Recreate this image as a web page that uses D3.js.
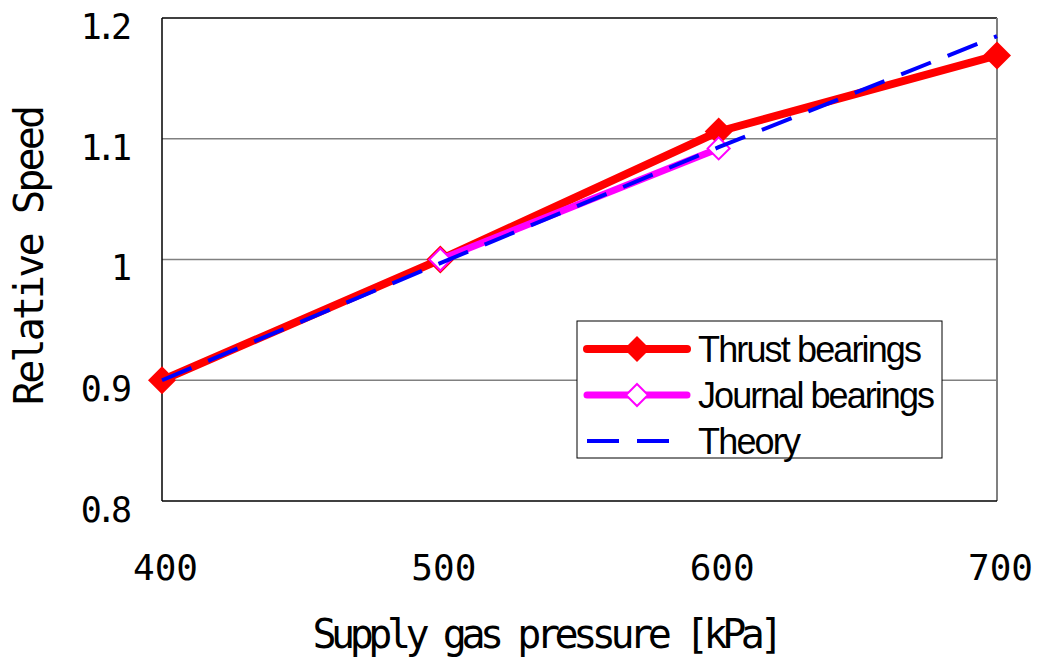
<!DOCTYPE html>
<html>
<head>
<meta charset="utf-8">
<script src="https://cdn.jsdelivr.net/npm/d3@7"></script>
<style>
  body { margin: 0; background: #fff; }
  svg { display: block; }
</style>
</head>
<body>
<div id="chart"></div>
<script>
// values
var pressures = [400, 500, 600, 700];
var yTicks = [0.8, 0.9, 1.0, 1.1, 1.2];
var yTickLabels = ['0.8', '0.9', '1', '1.1', '1.2'];
var thrustX = [400, 500, 600, 700];
var thrustY = [0.9, 1.0, 1.106, 1.169];
var journalX = [500, 600];
var journalY = [1.0, 1.092];
var theoryX = [400, 500, 600, 700];
var theoryY = [0.9, 0.997, 1.093, 1.185];

var width = 1037, height = 662;
var margins = {top: 18, right: 40, bottom: 161, left: 162};
var innerW = width - margins.left - margins.right;
var innerH = height - margins.top - margins.bottom;

var svg = d3.select('#chart').append('svg')
  .attr('width', width)
  .attr('height', height);

var xScale = d3.scaleLinear().domain([400, 700]).range([0, innerW]);
var yScale = d3.scaleLinear().domain([0.8, 1.2]).range([innerH, 0]);

var g = svg.append('g')
  .attr('transform', 'translate(' + margins.left + ',' + margins.top + ')');

// gridlines
g.append('g').selectAll('line')
  .data(yTicks.slice(1, -1))
  .enter().append('line')
  .attr('x1', 0).attr('x2', innerW)
  .attr('y1', function(d) { return yScale(d); })
  .attr('y2', function(d) { return yScale(d); })
  .attr('stroke', '#808080')
  .attr('stroke-width', 1.5);

// plot frame
g.append('line').attr('x1', 0).attr('x2', innerW).attr('y1', 0).attr('y2', 0)
  .attr('stroke', '#000').attr('stroke-width', 1.5);
g.append('line').attr('x1', innerW).attr('x2', innerW).attr('y1', 0).attr('y2', innerH)
  .attr('stroke', '#808080').attr('stroke-width', 2);
g.append('line').attr('x1', 0).attr('x2', innerW).attr('y1', innerH).attr('y2', innerH)
  .attr('stroke', '#000').attr('stroke-width', 1.5);
g.append('line').attr('x1', 0).attr('x2', 0).attr('y1', 0).attr('y2', innerH)
  .attr('stroke', '#000').attr('stroke-width', 1.5);

// axes (labels only, ticks hidden like the original)
var xAxis = d3.axisBottom(xScale).tickValues(pressures).tickSize(0).tickPadding(0);
var gx = g.append('g').attr('transform', 'translate(0,' + innerH + ')').call(xAxis);
gx.select('.domain').remove();
gx.selectAll('text')
  .attr('dy', 0)
  .attr('y', 79)
  .attr('x', 3)
  .attr('fill', '#000')
  .style('font-family', 'DejaVu Sans Mono')
  .style('font-size', '36px');

var yAxis = d3.axisLeft(yScale).tickValues(yTicks).tickSize(0).tickPadding(0)
  .tickFormat(function(d, i) { return yTickLabels[i]; });
var gy = g.append('g').call(yAxis);
gy.select('.domain').remove();
gy.selectAll('text')
  .attr('x', -36)
  .attr('dy', '0.75em')
  .attr('y', -6)
  .attr('fill', '#000')
  .attr('letter-spacing', '-6px')
  .style('font-family', 'DejaVu Sans Mono')
  .style('font-size', '35px');

// axis titles
svg.append('text')
  .attr('x', 548).attr('y', 648)
  .attr('text-anchor', 'middle')
  .attr('textLength', 471)
  .style('font-family', 'DejaVu Sans Mono')
  .style('font-size', '40px')
  .text('Supply gas pressure [kPa]');

svg.append('text')
  .attr('transform', 'translate(43,255) rotate(-90)')
  .attr('text-anchor', 'middle')
  .attr('textLength', 300)
  .style('font-family', 'DejaVu Sans Mono')
  .style('font-size', '40px')
  .text('Relative Speed');

var line = d3.line()
  .x(function(d) { return xScale(d[0]); })
  .y(function(d) { return yScale(d[1]); });

function pairs(xs, ys) { return xs.map(function(x, i) { return [x, ys[i]]; }); }

var thrust = pairs(thrustX, thrustY);
var journal = pairs(journalX, journalY);
var theory = pairs(theoryX, theoryY);

function diamond(r) {
  return 'M0,' + (-r) + 'L' + r + ',0L0,' + r + 'L' + (-r) + ',0Z';
}

// thrust bearings
g.append('path').datum(thrust)
  .attr('d', line)
  .attr('fill', 'none')
  .attr('stroke', '#ff0000')
  .attr('stroke-width', 8)
  .attr('stroke-linejoin', 'round');
g.append('g').selectAll('path')
  .data(thrust).enter().append('path')
  .attr('transform', function(d) { return 'translate(' + xScale(d[0]) + ',' + yScale(d[1]) + ')'; })
  .attr('d', diamond(14))
  .attr('fill', '#ff0000');

// journal bearings
g.append('path').datum(journal)
  .attr('d', line)
  .attr('fill', 'none')
  .attr('stroke', '#ff00ff')
  .attr('stroke-width', 7);
g.append('g').selectAll('path')
  .data(journal).enter().append('path')
  .attr('transform', function(d) { return 'translate(' + xScale(d[0]) + ',' + yScale(d[1]) + ')'; })
  .attr('d', diamond(11))
  .attr('fill', '#fff')
  .attr('stroke', '#ff00ff')
  .attr('stroke-width', 2);

// theory
g.append('path').datum(theory)
  .attr('d', line)
  .attr('fill', 'none')
  .attr('stroke', '#0000ff')
  .attr('stroke-width', 4)
  .attr('stroke-dasharray', '32,18');

// legend
var legend = svg.append('g').attr('transform', 'translate(577,321)');
legend.append('rect')
  .attr('width', 365).attr('height', 137)
  .attr('fill', '#fff')
  .attr('stroke', '#000')
  .attr('stroke-width', 1);

var legendItems = [
  {name: 'Thrust  bearings', color: '#ff0000', width: 8, marker: 'filled'},
  {name: 'Journal bearings', color: '#ff00ff', width: 7, marker: 'open'},
  {name: 'Theory', color: '#0000ff', width: 4, marker: null}
];

var rows = legend.selectAll('g.item')
  .data(legendItems).enter().append('g')
  .attr('class', 'item')
  .attr('transform', function(d, i) { return 'translate(0,' + (28 + i * 46) + ')'; });

rows.append('line')
  .attr('x1', 10).attr('x2', 110)
  .attr('stroke', function(d) { return d.color; })
  .attr('stroke-width', function(d) { return d.width; })
  .attr('stroke-linecap', function(d) { return d.marker ? 'round' : 'butt'; })
  .attr('stroke-dasharray', function(d) { return d.marker ? null : '32,18'; });

rows.filter(function(d) { return d.marker; }).append('path')
  .attr('transform', 'translate(60,0)')
  .attr('d', function(d) { return diamond(d.marker === 'filled' ? 13 : 11); })
  .attr('fill', function(d) { return d.marker === 'filled' ? d.color : '#fff'; })
  .attr('stroke', function(d) { return d.marker === 'filled' ? 'none' : d.color; })
  .attr('stroke-width', 2);

rows.append('text')
  .attr('x', 121).attr('y', 13)
  .attr('textLength', function(d, i) { return [224, 237, 103][i]; })
  .style('font-family', 'Liberation Sans, Arial, sans-serif')
  .style('font-size', '36px')
  .attr('fill', '#000')
  .text(function(d) { return d.name; });
</script>
</body>
</html>
